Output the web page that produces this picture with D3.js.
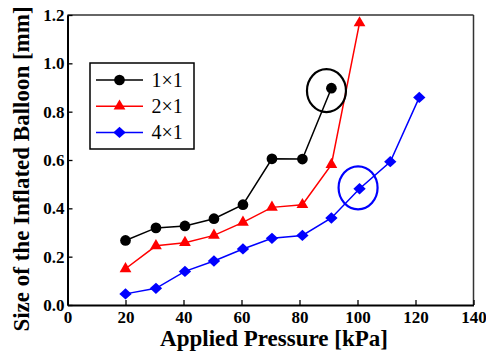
<!DOCTYPE html>
<html><head><meta charset="utf-8">
<script src="https://cdn.jsdelivr.net/npm/d3@7/dist/d3.min.js"></script>
<style>body{margin:0;background:#fff}svg{display:block}</style>
</head><body>
<svg id="c" width="486" height="351"></svg>
<script>
const xTicks = [0,20,40,60,80,100,120,140];
const yTicks = [0,0.2,0.4,0.6,0.8,1.0,1.2];
const pressure = [20,30.5,40.5,50.5,60.5,70.5,81,91,100.7,111.3,121.3];
const s1x1 = [0.267,0.319,0.327,0.357,0.415,0.605,0.604,0.897];
const s2x1 = [0.150,0.245,0.258,0.288,0.342,0.404,0.415,0.581,1.167];
const s4x1 = [0.046,0.069,0.139,0.182,0.232,0.276,0.288,0.360,0.481,0.593,0.859];
const seriesNames = ["1\u00d71","2\u00d71","4\u00d71"];
const highlights = [{x:89.3,y:0.887,color:"#000"},{x:100.2,y:0.485,color:"#0000ff"}];

const svg = d3.select("#c");
const L=67.5,R=473.5,T=15,B=305;
const x = d3.scaleLinear().domain([0,140]).range([L,R]);
const y = d3.scaleLinear().domain([0,1.2]).range([B,T]);
const font = "Liberation Serif";

const diamond = {draw(ctx,size){const r=Math.sqrt(size/2);ctx.moveTo(0,-r*0.92);ctx.lineTo(r,0);ctx.lineTo(0,r*0.92);ctx.lineTo(-r,0);ctx.closePath();}};

// frame top/right
svg.append("line").attr("x1",L).attr("x2",R).attr("y1",T).attr("y2",T).attr("stroke","#333").attr("stroke-width",1.5);
svg.append("line").attr("x1",R).attr("x2",R).attr("y1",T).attr("y2",B).attr("stroke","#333").attr("stroke-width",1.5);

const xa = svg.append("g").attr("transform",`translate(0,${B})`)
  .call(d3.axisBottom(x).tickValues(xTicks).tickFormat(d3.format("d")).tickSizeInner(-5).tickSizeOuter(0).tickPadding(6));
const ya = svg.append("g").attr("transform",`translate(${L},0)`)
  .call(d3.axisLeft(y).tickValues(yTicks).tickFormat(d3.format(".1f")).tickSizeInner(-5).tickSizeOuter(0).tickPadding(3));
[xa,ya].forEach(a=>{
  a.attr("font-family",null).attr("font-size",null);
  a.select(".domain").attr("stroke","#000").attr("stroke-width",2);
  a.selectAll(".tick line").attr("stroke","#000").attr("stroke-width",1.3);
  a.selectAll("text").style("font-family",font).style("font-weight","bold").style("font-size","17px").attr("fill","#000");
});
ya.selectAll("text").attr("dy","0.32em");
xa.selectAll("text").attr("dy","0.71em");

svg.append("text").attr("x",274).attr("y",346).attr("text-anchor","middle")
  .style("font-family",font).style("font-weight","bold").style("font-size","23px").text("Applied Pressure [kPa]");
svg.append("text").attr("transform",`translate(29,169) rotate(-90)`).attr("text-anchor","middle")
  .style("font-family",font).style("font-weight","bold").style("font-size","23px").text("Size of the Inflated Balloon [mm]");

const series = [
  {name:seriesNames[0], vals:s1x1, color:"#000000", sym:d3.symbolCircle, size:90},
  {name:seriesNames[1], vals:s2x1, color:"#ff0000", sym:d3.symbolTriangle, size:60},
  {name:seriesNames[2], vals:s4x1, color:"#0000ff", sym:diamond, size:76}
];
const line = d3.line().x(d=>x(d[0])).y(d=>y(d[1]));
series.forEach(s=>{
  const pts = s.vals.map((v,i)=>[pressure[i],v]);
  svg.append("path").attr("d",line(pts)).attr("fill","none").attr("stroke",s.color).attr("stroke-width",1.5);
  svg.selectAll(null).data(pts).enter().append("path")
    .attr("d",d3.symbol().type(s.sym).size(s.size))
    .attr("transform",d=>`translate(${x(d[0])},${y(d[1])})`).attr("fill",s.color);
});

highlights.forEach(h=>{
  svg.append("ellipse").attr("cx",x(h.x)).attr("cy",y(h.y)).attr("rx",19.5).attr("ry",21.5)
    .attr("fill","none").attr("stroke",h.color).attr("stroke-width",2.2);
});

// legend
const lg = svg.append("g");
lg.append("rect").attr("x",90).attr("y",63).attr("width",104).attr("height",86).attr("fill","#fff").attr("stroke","#000").attr("stroke-width",1.5);
series.forEach((s,i)=>{
  const yy = 80 + i*26.2;
  lg.append("line").attr("x1",96).attr("x2",143).attr("y1",yy).attr("y2",yy).attr("stroke",s.color).attr("stroke-width",1.5);
  lg.append("path").attr("d",d3.symbol().type(s.sym).size(s.size)).attr("transform",`translate(119.5,${yy})`).attr("fill",s.color);
  lg.append("text").attr("x",151.5).attr("y",yy).attr("dy","0.35em").style("font-family",font).style("font-size","20px").text(s.name);
});
</script>
</body></html>
